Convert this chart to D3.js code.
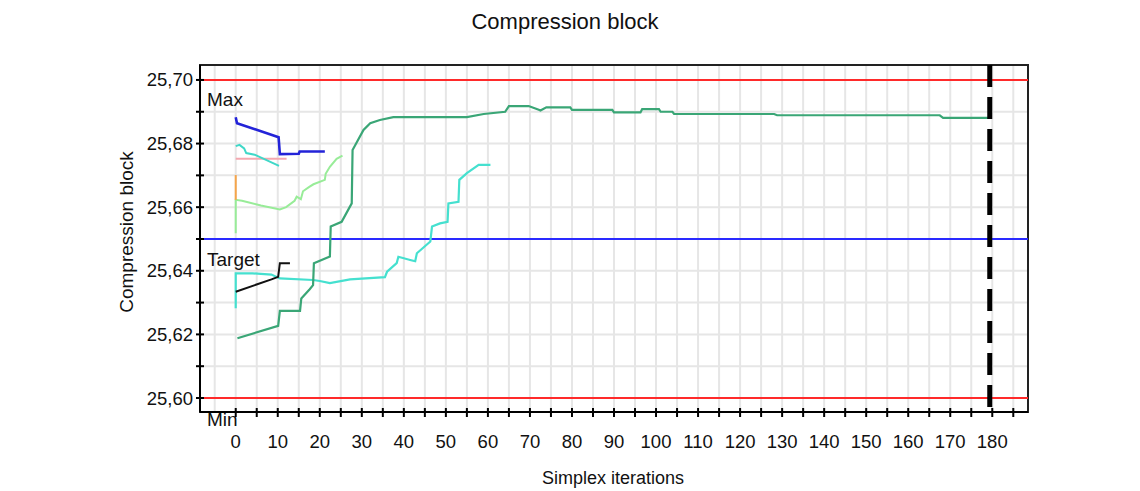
<!DOCTYPE html>
<html><head><meta charset="utf-8">
<script src="https://cdn.jsdelivr.net/npm/d3@7"></script>
<style>
html,body{margin:0;padding:0;background:#fff;}
svg{display:block;font-family:"Liberation Sans",Arial,sans-serif;}
</style></head>
<body>
<svg id="chart" width="1140" height="491"></svg>
<script>
// ---- data ----
const chartTitle = "Compression block";
const xTitle = "Simplex iterations";
const yTitle = "Compression block";
const xTickLabels = [0,10,20,30,40,50,60,70,80,90,100,110,120,130,140,150,160,170,180];
const yTickLabels = [25.60,25.62,25.64,25.66,25.68,25.70];
const limitMax = 25.70, limitTarget = 25.65, limitMin = 25.60;
const stopIteration = 179.4;

const seriesMainGreen = [[0.4,25.6188],[10.1,25.6227],[10.5,25.6274],[15.3,25.6274],[15.6,25.6313],[17.6,25.6342],[18.4,25.6355],[18.6,25.6424],[22.4,25.6445],[22.6,25.6539],[25.2,25.6554],[27.6,25.6612],[27.8,25.6780],[30.4,25.6843],[32,25.6864],[34.3,25.6874],[37.5,25.6883],[55,25.6883],[59,25.6893],[64.1,25.6900],[65,25.6918],[69.7,25.6918],[72.1,25.6906],[72.5,25.6904],[73.9,25.6914],[79.6,25.6914],[80,25.6906],[89.6,25.6906],[90,25.6898],[96.3,25.6898],[96.7,25.6908],[100.7,25.6908],[101.1,25.6900],[103.9,25.6900],[104.3,25.6893],[128.1,25.6893],[128.8,25.6889],[167.5,25.6889],[168.3,25.6881],[179.6,25.6881]];
const seriesCyanLong = [[0,25.6282],[0,25.6392],[4,25.6392],[8.5,25.6388],[10.5,25.6376],[18.4,25.6371],[20,25.6368],[22.4,25.6361],[27.2,25.6373],[35.5,25.6380],[36,25.6397],[38.3,25.6424],[38.7,25.6444],[41.5,25.6434],[42.7,25.6430],[43.1,25.6455],[46.3,25.6492],[46.7,25.6539],[48.6,25.6549],[50.4,25.6554],[50.6,25.6612],[53,25.6617],[53.2,25.6686],[55,25.6707],[57.8,25.6733],[60.6,25.6733]];
const seriesCyanShort = [[0,25.6792],[0.9,25.6796],[2,25.6785],[2.5,25.6770],[4.5,25.6765],[10.3,25.6730]];
const seriesPink = [[0,25.6752],[12.1,25.6752]];
const seriesOrange = [[0,25.6701],[0,25.6623]];
const seriesLightGreen = [[0,25.6518],[0,25.6623],[1.5,25.6620],[6,25.6605],[10.5,25.6593],[12,25.6600],[14,25.6620],[14.5,25.6633],[15.5,25.6625],[16,25.6650],[17.5,25.6664],[18.5,25.6672],[21.2,25.6686],[21.4,25.6705],[22.4,25.6727],[24,25.6752],[25.4,25.6762]];
const seriesBlack = [[0,25.6334],[8.5,25.6373],[10.1,25.6381],[10.5,25.6424],[12.9,25.6424]];
const seriesBlue = [[0,25.6883],[0.3,25.6864],[10.2,25.6820],[10.5,25.6767],[15,25.6768],[15.2,25.6775],[21.2,25.6775]];

// ---- drawing ----
const svg = d3.select("#chart");
const L = 200, R = 1028, T = 65, B = 412;
const x = d3.scaleLinear().domain([-8.5, 188.5]).range([L, R]);
const y = d3.scaleLinear().domain([25.5956, 25.7047]).range([B, T]);
const loc = d3.formatLocale({decimal:",", thousands:".", grouping:[3], currency:["",""]});
const fmt = loc.format(".2f");

// grid
svg.append("g").selectAll("line").data(d3.range(-5, 188, 5)).join("line")
  .attr("x1", d => x(d)).attr("x2", d => x(d)).attr("y1", T).attr("y2", B)
  .attr("stroke", "#e6e6e6").attr("stroke-width", 2);
svg.append("g").selectAll("line").data(d3.range(0, 11).map(i => 25.60 + i*0.01)).join("line")
  .attr("x1", L).attr("x2", R).attr("y1", d => y(d)).attr("y2", d => y(d))
  .attr("stroke", "#e6e6e6").attr("stroke-width", 2);

// frame
svg.append("rect").attr("x", L).attr("y", T).attr("width", R - L).attr("height", B - T)
  .attr("fill", "none").attr("stroke", "#222").attr("stroke-width", 2);

// limits
[[limitMax,"#ff2a2a"],[limitMin,"#ff2a2a"],[limitTarget,"#2a2aff"]].forEach(([v,c]) => {
  svg.append("line").attr("x1", L).attr("x2", R).attr("y1", y(v)).attr("y2", y(v))
    .attr("stroke", c).attr("stroke-width", 2);
});

// series
const line = d3.line().x(d => x(d[0])).y(d => y(d[1]));
const seriesList = [
  [seriesLightGreen, "#98ec98", 2],
  [seriesOrange, "#f5a54a", 2],
  [seriesPink, "#f4a8b0", 2],
  [seriesCyanShort, "#3fd8c8", 2],
  [seriesCyanLong, "#45e0cf", 2.2],
  [seriesMainGreen, "#3aa676", 2.2],
  [seriesBlack, "#111", 2],
  [seriesBlue, "#2323d8", 2.6]
];
seriesList.forEach(([data, color, w]) => {
  svg.append("path").datum(data).attr("d", line)
    .attr("fill", "none").attr("stroke", color).attr("stroke-width", w);
});

// stop line
svg.append("line").attr("x1", x(stopIteration)).attr("x2", x(stopIteration))
  .attr("y1", T).attr("y2", B + 2)
  .attr("stroke", "#000").attr("stroke-width", 5).attr("stroke-dasharray", "22,10");

// limit labels
svg.append("text").attr("x", 207).attr("y", 106).attr("font-size", 19).attr("fill", "#111").text("Max");
svg.append("text").attr("x", 207).attr("y", 266).attr("font-size", 19).attr("fill", "#111").text("Target");
svg.append("text").attr("x", 207).attr("y", 426).attr("font-size", 19).attr("fill", "#111").text("Min");

// axes lines
svg.append("line").attr("x1", L).attr("x2", R).attr("y1", B).attr("y2", B).attr("stroke", "#000").attr("stroke-width", 2);
svg.append("line").attr("x1", L).attr("x2", L).attr("y1", T).attr("y2", B).attr("stroke", "#000").attr("stroke-width", 2);

// x ticks
svg.append("g").selectAll("line").data(d3.range(0, 186, 5)).join("line")
  .attr("x1", d => x(d)).attr("x2", d => x(d)).attr("y1", B - 4).attr("y2", B + 5)
  .attr("stroke", "#000").attr("stroke-width", 2);
svg.append("g").selectAll("text").data(xTickLabels).join("text")
  .attr("x", d => x(d)).attr("y", 448).attr("text-anchor", "middle")
  .attr("font-size", 18.5).attr("fill", "#111").text(d => d);

// y ticks
svg.append("g").selectAll("line").data(d3.range(0, 11).map(i => 25.60 + i*0.01)).join("line")
  .attr("x1", L - 4).attr("x2", L + 4).attr("y1", d => y(d)).attr("y2", d => y(d))
  .attr("stroke", "#000").attr("stroke-width", 2);
svg.append("g").selectAll("text").data(yTickLabels).join("text")
  .attr("x", 193).attr("y", d => y(d) + 6.5).attr("text-anchor", "end")
  .attr("font-size", 18.5).attr("fill", "#111").text(d => fmt(d));

// titles
svg.append("text").attr("x", 565).attr("y", 29).attr("text-anchor", "middle")
  .attr("font-size", 22).attr("fill", "#111").text(chartTitle);
svg.append("text").attr("x", 613).attr("y", 484).attr("text-anchor", "middle")
  .attr("font-size", 18).attr("fill", "#111").text(xTitle);
svg.append("text").attr("transform", "translate(133,232) rotate(-90)").attr("text-anchor", "middle")
  .attr("font-size", 19).attr("fill", "#111").text(yTitle);
</script>
</body></html>
